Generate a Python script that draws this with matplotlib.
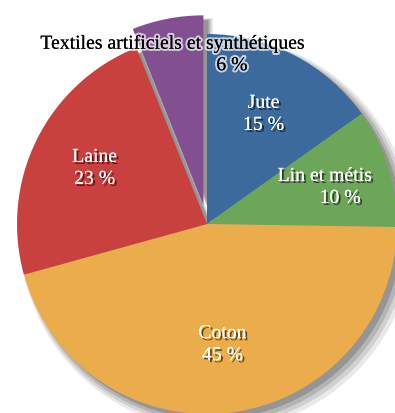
import matplotlib
matplotlib.use("Agg")
import matplotlib.pyplot as plt
import matplotlib.patheffects as pe
import numpy as np

labels = ["Jute", "Lin et métis", "Coton", "Laine", "Textiles artificiels et synthétiques"]
values = [15, 10, 45, 23, 6]
pct_text = ["15 %", "10 %", "45 %", "23 %", "6 %"]
colors = ["#3C6A9D", "#6BA659", "#EBAD4B", "#C8413F", "#825090"]
explode = [0, 0, 0, 0, 0.1]

W, H = 395, 414
cx, cy, R = 207, 225, 190  # pixel centre / radius

fig = plt.figure(figsize=(W / 100, H / 100), dpi=100)
ax = fig.add_axes([0, 0, 1, 1])

# soft drop shadow, several translucent layers
for k, a in enumerate([0.10, 0.13, 0.17, 0.22]):
    off = 0.05 - k * 0.008
    ax.pie(values, explode=explode, startangle=90, counterclock=False,
           colors=["#2a2a2a"] * 5, radius=1 + 0.012 * (3 - k),
           center=(off, -off), frame=True,
           wedgeprops=dict(alpha=a, linewidth=0))

wedges, _ = ax.pie(values, explode=explode, startangle=90, counterclock=False,
                   colors=colors, radius=1, frame=True,
                   wedgeprops=dict(linewidth=0))
ax.set_xlim(-cx / R, (W - cx) / R)
ax.set_ylim(-(H - cy) / R, cy / R)
ax.set_aspect("auto")
ax.axis("off")

shadow_fx = [pe.withSimplePatchShadow(offset=(1.5, -1.5), shadow_rgbFace="black", alpha=0.6), pe.Normal()]
glow_fx = [pe.withStroke(linewidth=3, foreground="white", alpha=0.7), pe.Normal()]
font = dict(family="Liberation Serif", fontsize=14.2)

dist = [0.65, 0.65, 0.64, 0.66, 0.95]
shift2 = [0, 0.08, 0, 0, 0.31]  # x shift of the percentage line
for i, w in enumerate(wedges):
    ang = np.deg2rad((w.theta1 + w.theta2) / 2)
    x0, y0 = w.center
    x = x0 + dist[i] * np.cos(ang)
    y = y0 + dist[i] * np.sin(ang)
    if i == 4:
        x += 0.02
        y -= 0.14
    col = "black" if i == 4 else "white"
    fx = glow_fx if i == 4 else shadow_fx
    ax.text(x, y + 0.058, labels[i], ha="center", va="center", color=col,
            path_effects=fx, **font)
    ax.text(x + shift2[i], y - 0.058, pct_text[i], ha="center", va="center", color=col,
            path_effects=fx, **font)

fig.savefig("out.png", dpi=100)
